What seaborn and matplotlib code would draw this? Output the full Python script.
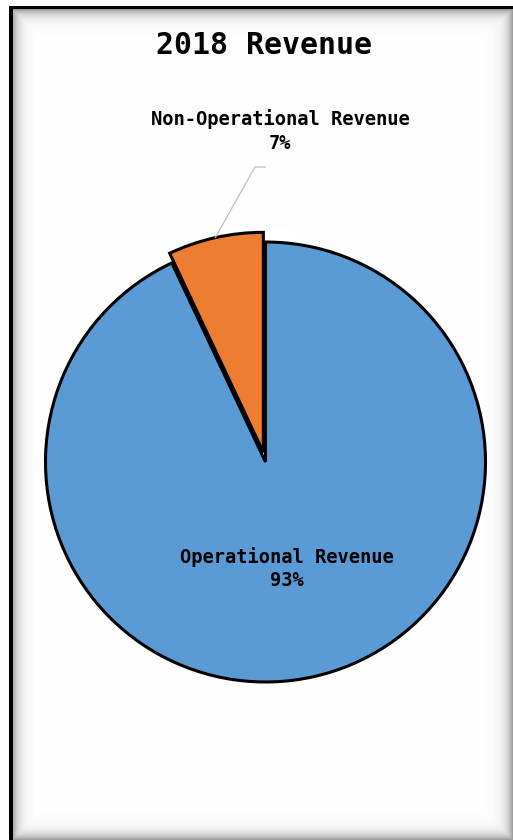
import matplotlib
matplotlib.use("Agg")
import matplotlib.pyplot as plt
import seaborn as sns
import numpy as np

# chart data
categories = ["Operational Revenue", "Non-Operational Revenue"]
shares = [93, 7]
colors = ["#5B9BD5", "#ED7D31"]
explode = [0, 0.045]
title = "2018 Revenue"

sns.set_theme(style="white")
plt.rcParams["font.family"] = ["DejaVu Sans Mono", "DejaVu Sans"]

W, H = 513, 840
fig = plt.figure(figsize=(W / 100, H / 100), dpi=100)

# background frame with inner shadow
bg = fig.add_axes([0, 0, 1, 1])
yy, xx = np.mgrid[0:H, 0:W].astype(float)
d = np.minimum.reduce([xx - 12, yy - 9, W - 1 - xx, H - 1 - yy])
img = 1 - 0.38 * np.exp(-np.clip(d, 0, None) / 6)
img[(xx >= 9) & (xx < 13) & (yy >= 6)] = 0
img[(yy >= 6) & (yy < 9) & (xx >= 9)] = 0
img[(xx < 9) | (yy < 6)] = 1
bg.imshow(np.dstack([img] * 3), extent=[0, W, H, 0], interpolation="bilinear")
bg.set_xlim(0, W)
bg.set_ylim(H, 0)
bg.axis("off")

# pie axes: centre at (265.5, 462) px, radius 220 px
cx, cy, r = 265.5, 462, 220
ax = fig.add_axes([(cx - r) / W, (H - cy - r) / H, 2 * r / W, 2 * r / H])
wedges, _ = ax.pie(
    shares,
    colors=colors,
    explode=explode,
    startangle=90,
    counterclock=False,
    wedgeprops=dict(edgecolor="black", linewidth=2.2),
)
for w in wedges:
    w.set_clip_on(False)
ax.set_xlim(-1, 1)
ax.set_ylim(-1, 1)
ax.axis("off")

lab_kw = dict(ha="center", va="center", fontsize=13.5, fontweight="bold",
              color="black", linespacing=1.3)
ax.text(0.098, -0.484, f"{categories[0]}\n{shares[0]}%", **lab_kw)
ax.text(0.066, 1.505, f"{categories[1]}\n{shares[1]}%", **lab_kw)

# leader line from the small slice to its label
w = wedges[1]
mid = np.deg2rad((w.theta1 + w.theta2) / 2)
rr = 1 + explode[1]
ax.plot([rr * np.cos(mid), -0.048, 0.0], [rr * np.sin(mid), 1.341, 1.341],
        color="#BFBFBF", lw=0.9, clip_on=False)

fig.text(264 / W, 1 - 45 / H, title, ha="center", va="center",
         fontsize=21.5, fontweight="bold", color="black")

fig.savefig("out.png", dpi=100)
